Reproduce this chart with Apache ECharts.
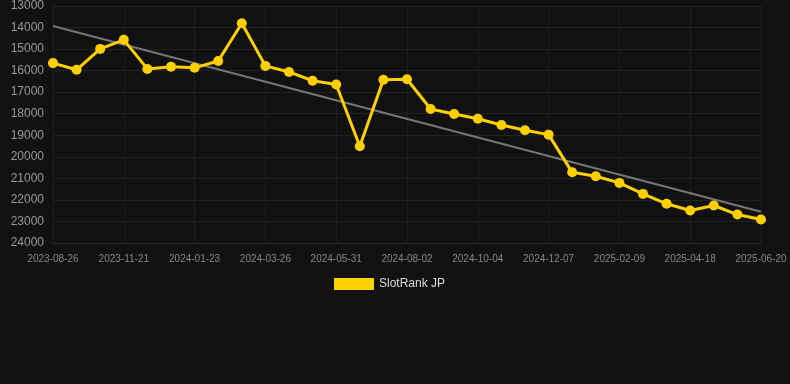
<!DOCTYPE html>
<html><head><meta charset="utf-8">
<script src="https://cdn.jsdelivr.net/npm/echarts@6/dist/echarts.min.js"></script>
<style>html,body{margin:0;padding:0;background:#111111;}#c{width:790px;height:384px;}</style>
</head><body><div id="c"></div>
<script>
const dates = ["2023-08-26","2023-09-24","2023-10-23","2023-11-21","2023-12-12","2024-01-02","2024-01-23","2024-02-13","2024-03-05","2024-03-26","2024-04-17","2024-05-09","2024-05-31","2024-06-21","2024-07-12","2024-08-02","2024-08-23","2024-09-13","2024-10-04","2024-10-25","2024-11-16","2024-12-07","2024-12-28","2025-01-19","2025-02-09","2025-03-05","2025-03-26","2025-04-18","2025-05-09","2025-05-30","2025-06-20"];
const rankJP = [15650,15960,14990,14570,15920,15820,15870,15550,13800,15780,16060,16470,16640,19510,16420,16400,17780,18010,18230,18520,18770,18970,20720,20900,21210,21720,22180,22490,22260,22680,22910];
const trendStart = 13930;
const trendEnd = 22550;
const yTicks = {min: 13000, max: 24000, step: 1000};

const trend = dates.map((d, i) => i === 0 ? trendStart : (i === dates.length - 1 ? trendEnd : null));

const chart = echarts.init(document.getElementById('c'));
chart.setOption({
  backgroundColor: '#111111',
  animation: false,
  grid: {left: 53, right: 29, top: 5.5, bottom: 141, containLabel: false},
  legend: {
    data: [{name: 'SlotRank JP', icon: 'rect'}],
    top: 273, left: 329,
    itemWidth: 40, itemHeight: 12, itemGap: 10,
    textStyle: {color: '#dddddd', fontSize: 12, fontFamily: 'Liberation Sans, Arial, sans-serif'}
  },
  xAxis: {
    type: 'category', data: dates, boundaryGap: false,
    axisLine: {show: true, lineStyle: {color: '#2a2a2a'}},
    axisTick: {show: false},
    axisLabel: {interval: 2, color: '#888888', fontSize: 10, margin: 11, fontFamily: 'Liberation Sans, Arial, sans-serif'},
    splitLine: {show: true, interval: 2, lineStyle: {color: '#1e1e1e'}}
  },
  yAxis: {
    type: 'value', inverse: true, min: yTicks.min, max: yTicks.max, interval: yTicks.step,
    axisLine: {show: false}, axisTick: {show: false},
    axisLabel: {color: '#999999', fontSize: 12, margin: 9, formatter: v => String(v), fontFamily: 'Liberation Sans, Arial, sans-serif'},
    splitLine: {lineStyle: {color: '#222222'}}
  },
  series: [
    {
      name: 'Trend', type: 'line', data: trend, connectNulls: true,
      symbol: 'none', lineStyle: {color: '#777777', width: 2}, z: 1, silent: true
    },
    {
      name: 'SlotRank JP', type: 'line', data: rankJP,
      symbol: 'circle', symbolSize: 10,
      itemStyle: {color: '#FFD000'},
      lineStyle: {color: '#FFD000', width: 3}, z: 2
    }
  ]
});
</script></body></html>
